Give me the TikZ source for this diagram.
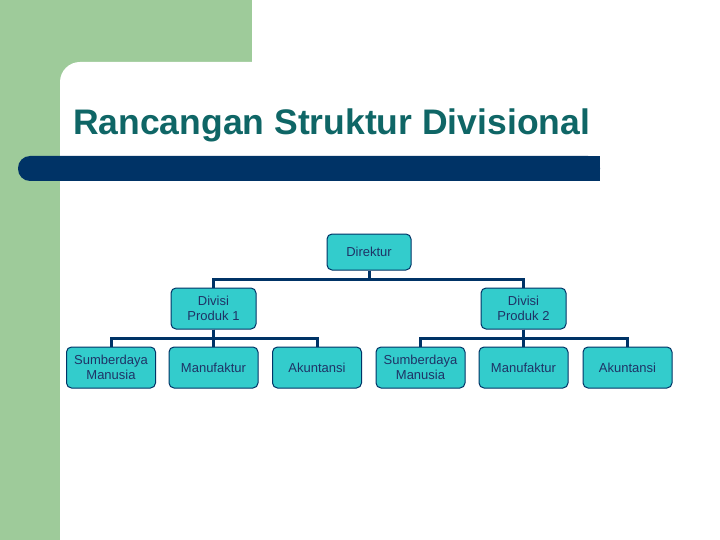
\documentclass[tikz,border=0pt]{standalone}
\usepackage{fontspec}
\setmainfont{Liberation Sans}
\usepackage{tikz}
\definecolor{slidegreen}{HTML}{9ECB9A}
\definecolor{barblue}{HTML}{003366}
\definecolor{titleteal}{HTML}{0F6666}
\definecolor{boxfill}{HTML}{33CCCC}
\definecolor{boxtext}{HTML}{1F3366}
\tikzset{
  unitbox/.style={draw=barblue, fill=boxfill, rounded corners=5pt, line width=1pt,
    minimum width=89pt, minimum height=41pt, align=center, text=boxtext,
    inner sep=1pt, font=\fontsize{13}{15}\selectfont},
  link/.style={draw=barblue, line width=3pt}
}
\begin{document}
\begin{tikzpicture}[x=1pt,y=-1pt]
\useasboundingbox (0,0) rectangle (720,540);
\clip (0,0) rectangle (720,540);
% background
\fill[white] (0,0) rectangle (720,540);
\fill[slidegreen] (0,0) rectangle (252,540);
\fill[white, rounded corners=20pt] (60,600) -- (60,62) -- (780,62) -- (780,600) -- cycle;
\fill[barblue, rounded corners=12pt] (600,156) -- (18,156) -- (18,181) -- (600,181) -- cycle;
\fill[barblue] (580,156) rectangle (600,181);
\node[anchor=base west, text=titleteal, inner sep=0pt, font=\fontsize{35.5}{40}\selectfont\bfseries] (title) at (73,135) {Rancangan Struktur Divisional};
% boxes
\node[unitbox, minimum width=84pt, minimum height=36pt] (direktur) at (369,252) {Direktur};
\node[unitbox, minimum width=85pt] (divA) at (213.5,308.5) {Divisi\\Produk 1};
\node[unitbox, minimum width=85pt] (divB) at (523.5,308.5) {Divisi\\Produk 2};
\node[unitbox] (sdmA) at (111,367.5) {Sumberdaya\\Manusia};
\node[unitbox] (manA) at (213.5,367.5) {Manufaktur};
\node[unitbox] (aktA) at (317,367.5) {Akuntansi};
\node[unitbox] (sdmB) at (420.5,367.5) {Sumberdaya\\Manusia};
\node[unitbox] (manB) at (523.5,367.5) {Manufaktur};
\node[unitbox] (aktB) at (627.5,367.5) {Akuntansi};
% connectors
\draw[link] (direktur.south) -- ++(0,9) -| (divA.north);
\draw[link] (direktur.south) -- ++(0,9) -| (divB.north);
\draw[link] (divA.south) -- ++(0,9) -| (sdmA.north);
\draw[link] (divA.south) -- (manA.north);
\draw[link] (divA.south) -- ++(0,9) -| (aktA.north);
\draw[link] (divB.south) -- ++(0,9) -| (sdmB.north);
\draw[link] (divB.south) -- (manB.north);
\draw[link] (divB.south) -- ++(0,9) -| (aktB.north);
\end{tikzpicture}
\end{document}
